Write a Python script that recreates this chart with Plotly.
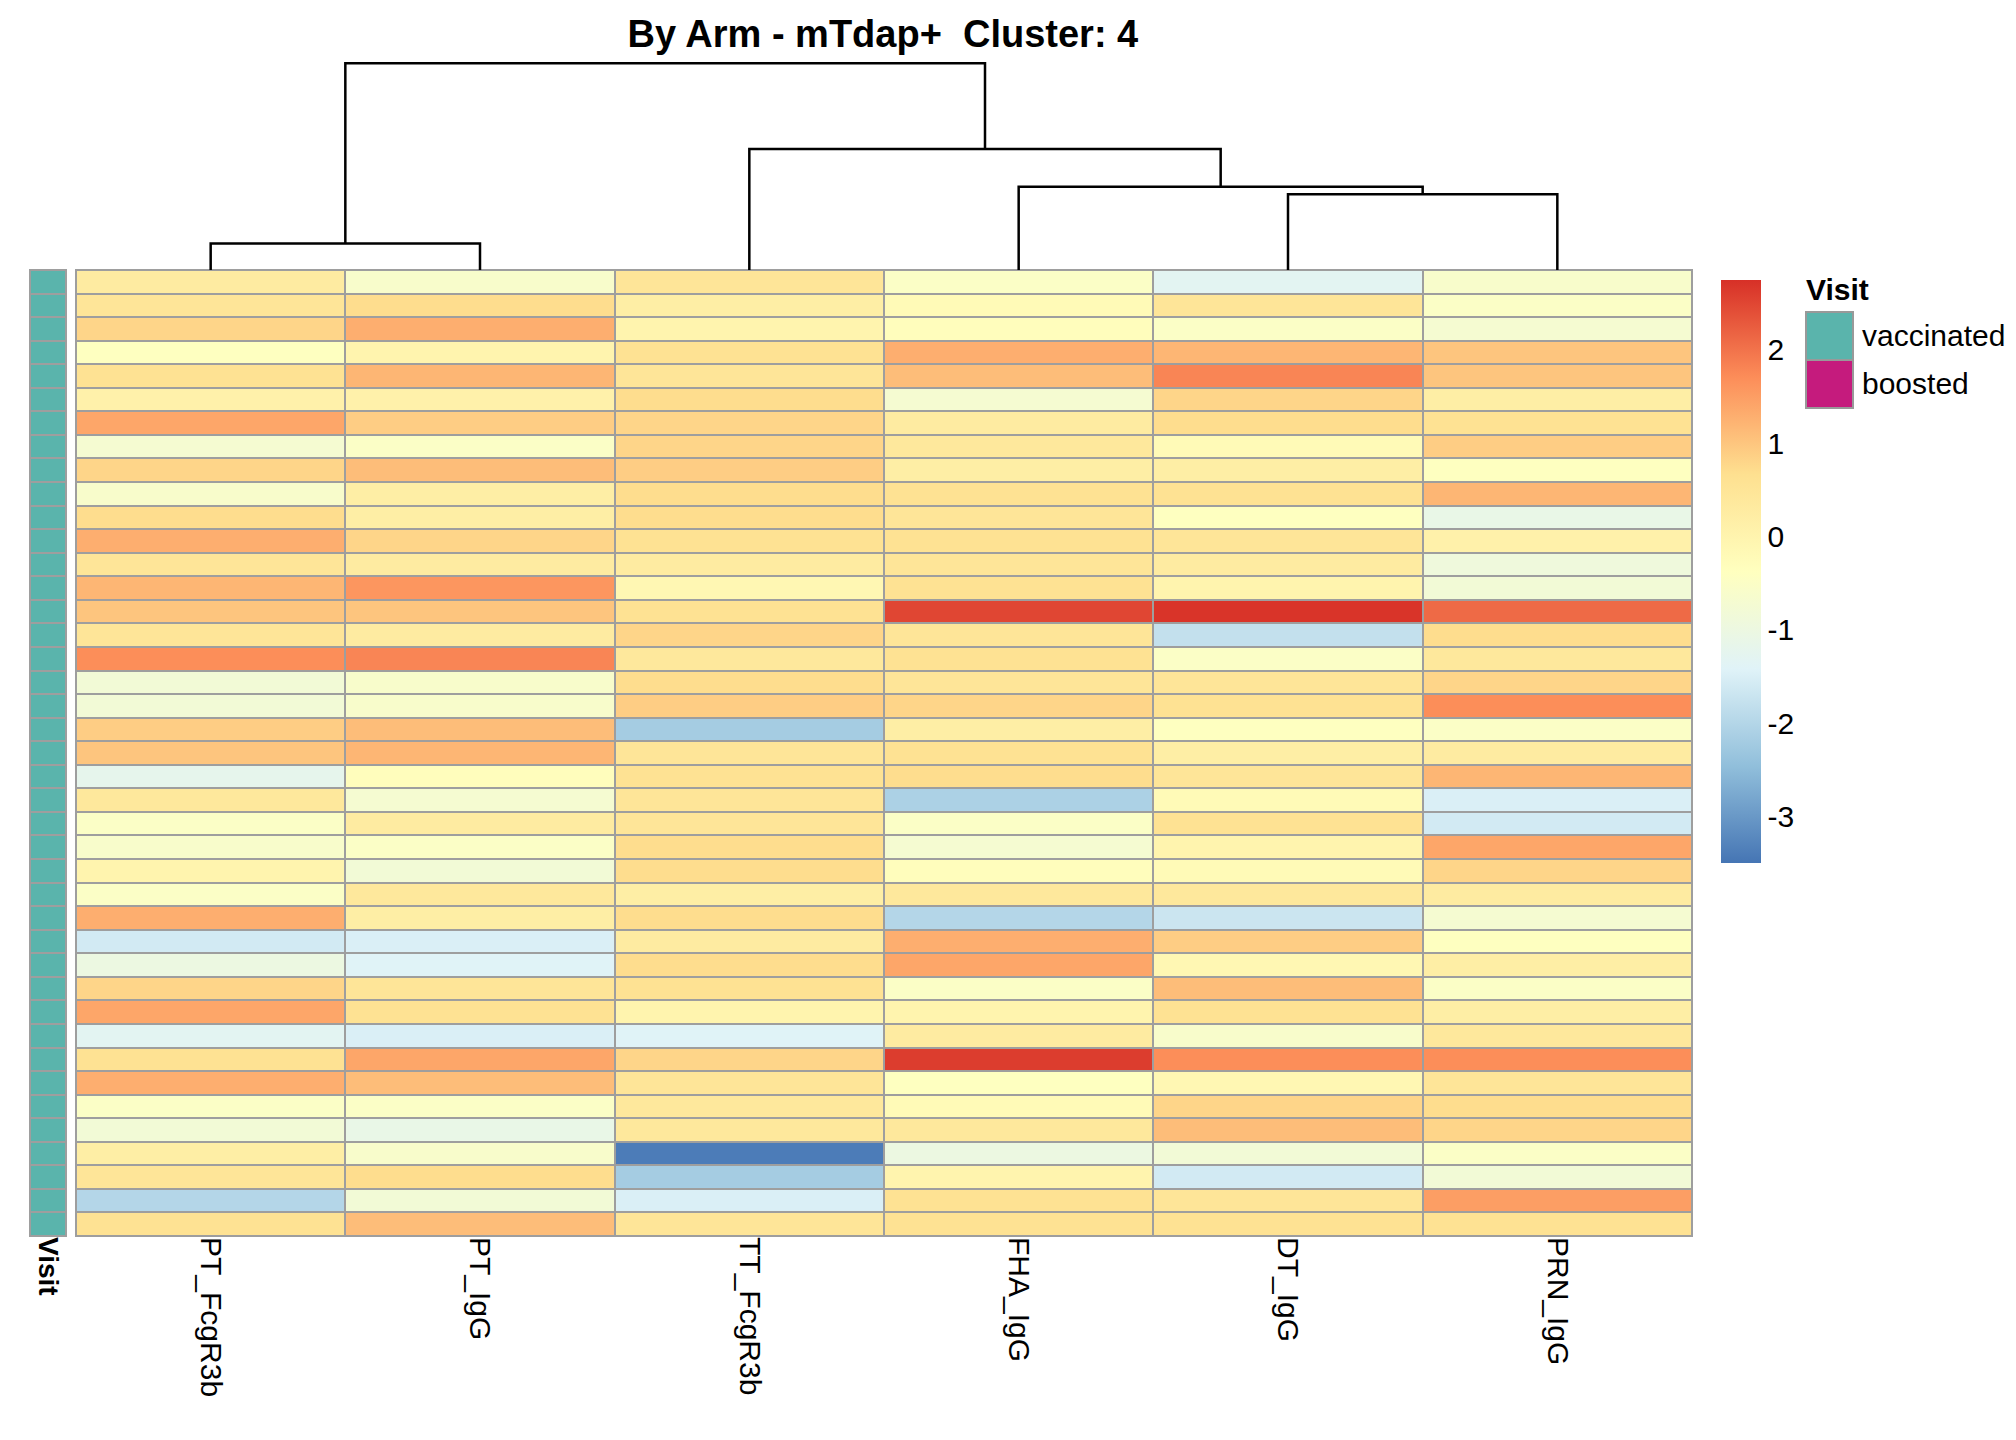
import plotly.graph_objects as go

cols = ["PT_FcgR3b", "PT_IgG", "TT_FcgR3b", "FHA_IgG", "DT_IgG", "PRN_IgG"]
PT_FcgR3b = [0.3,0.5,0.8,-0.4,0.6,0.1,1.4,-0.7,0.8,-0.6,0.7,1.3,0.5,1.2,1.0,0.5,1.7,-0.8,-0.8,0.9,1.0,-1.2,0.4,-0.5,-0.6,0.0,-0.5,1.3,-1.6,-1.0,0.8,1.4,-1.3,0.6,1.3,-0.5,-0.8,0.2,0.5,-2.0,0.6]
PT_IgG = [-0.6,0.7,1.3,0.0,1.2,0.1,0.9,-0.5,1.1,0.2,0.2,0.8,0.3,1.6,1.0,0.3,1.8,-0.6,-0.6,1.1,1.2,-0.3,-0.7,0.3,-0.5,-0.8,0.4,0.2,-1.5,-1.4,0.5,0.6,-1.5,1.4,1.1,-0.5,-1.1,-0.6,0.7,-0.8,1.1]
TT_FcgR3b = [0.5,0.2,0.0,0.6,0.5,0.7,0.8,0.8,0.9,0.7,0.7,0.6,0.3,-0.1,0.6,0.8,0.4,0.7,0.9,-2.2,0.5,0.6,0.5,0.5,0.7,0.7,0.2,0.7,0.3,0.7,0.6,0.0,-1.4,0.8,0.5,0.4,0.4,-3.4,-2.2,-1.5,0.5]
FHA_IgG = [-0.5,-0.2,-0.3,1.3,1.1,-0.7,0.3,0.4,0.2,0.6,0.5,0.6,0.5,0.6,2.5,0.5,0.6,0.5,0.8,0.2,0.6,0.7,-2.1,-0.5,-0.7,-0.3,0.4,-2.0,1.3,1.4,-0.5,0.0,0.3,2.6,-0.4,-0.2,0.4,-1.0,0.0,0.6,0.6]
DT_IgG = [-1.3,0.5,-0.5,1.2,1.8,0.8,0.7,-0.2,0.2,0.6,-0.4,0.5,0.3,0.0,2.7,-1.8,-0.5,0.5,0.6,-0.4,0.2,0.5,-0.2,0.6,0.0,-0.2,0.4,-1.7,0.9,-0.1,1.1,0.6,-0.6,1.7,-0.1,0.8,1.1,-0.8,-1.6,0.5,0.6]
PRN_IgG = [-0.6,-0.5,-0.7,1.0,1.0,0.2,0.6,0.9,-0.4,1.2,-1.1,0.1,-0.9,-0.8,2.1,0.7,0.4,0.8,1.7,-0.5,0.3,1.2,-1.5,-1.6,1.4,0.8,0.3,-0.7,-0.4,0.2,-0.5,0.2,0.4,1.7,0.5,0.7,0.8,-0.5,-0.8,1.5,0.6]
visit = ["vaccinated"] * 41
tick_vals = [-3, -2, -1, 0, 1, 2]
tick_text = ["-3", "-2", "-1", "0", "1", "2"]

merge_heights = {"PT": 21, "DTPRN": 60, "FHA": 66, "TT": 96, "root": 164}

data = [PT_FcgR3b, PT_IgG, TT_FcgR3b, FHA_IgG, DT_IgG, PRN_IgG]
n = len(PT_FcgR3b)
z = [[data[c][r] for c in range(6)] for r in range(n)]
rows = list(range(n))

pal = ["#4575B4", "#91BFDB", "#E0F3F8", "#FFFFBF", "#FEE090", "#FC8D59", "#D73027"]
cscale = [[i / 6, c] for i, c in enumerate(pal)]

W, H = 2016, 1440
def px(x): return x / W
def py(y): return 1 - y / H

fig = go.Figure()
fig.add_trace(go.Heatmap(
    z=z, x=list(range(6)), y=rows, xaxis="x", yaxis="y",
    colorscale=cscale, zmin=-3.5, zmax=2.75,
    xgap=2, ygap=2, hoverinfo="skip",
    colorbar=dict(x=px(1703), xanchor="left", y=py(262), yanchor="top",
                  len=603, lenmode="pixels", thickness=40, thicknessmode="pixels",
                  outlinewidth=0, tickvals=tick_vals, ticktext=tick_text, ticks="",
                  tickfont=dict(size=30, color="black", family="Liberation Sans"))))

vis_val = [[0] for _ in visit]
fig.add_trace(go.Heatmap(
    z=vis_val, x=[0], y=rows, xaxis="x3", yaxis="y",
    colorscale=[[0, "#5AB4AC"], [1, "#5AB4AC"]], showscale=False,
    xgap=2, ygap=2, hoverinfo="skip"))

h = merge_heights
PTc = 0.5
DPc = 4.5
FDc = (3 + DPc) / 2
TTc = (2 + FDc) / 2
segs = [
    ([0, 0, 1, 1], [0, h["PT"], h["PT"], 0]),
    ([4, 4, 5, 5], [0, h["DTPRN"], h["DTPRN"], 0]),
    ([3, 3, DPc, DPc], [0, h["FHA"], h["FHA"], h["DTPRN"]]),
    ([2, 2, FDc, FDc], [0, h["TT"], h["TT"], h["FHA"]]),
    ([PTc, PTc, TTc, TTc], [h["PT"], h["root"], h["root"], h["TT"]]),
]
for xs, ys in segs:
    fig.add_trace(go.Scatter(x=xs, y=ys, xaxis="x2", yaxis="y2", mode="lines",
                             line=dict(color="black", width=2.5), hoverinfo="skip",
                             showlegend=False))

hx0, hx1 = px(68), px(1684)
hy0, hy1 = py(1228), py(262)
fig.update_layout(
    template=None,
    width=W, height=H, margin=dict(l=0, r=0, t=0, b=0),
    paper_bgcolor="white", plot_bgcolor="white", showlegend=False,
    font=dict(family="Liberation Sans", color="black"),
    title=dict(text="<b>By Arm - mTdap+  Cluster: 4</b>", x=0.434, xanchor="center",
               y=py(26), yanchor="middle", font=dict(size=38)),
    xaxis=dict(domain=[hx0, hx1], range=[-0.5, 5.5], tickvals=list(range(6)), ticktext=cols,
               tickangle=90, ticks="", showgrid=False, zeroline=False, showline=False,
               tickfont=dict(size=30), side="bottom", anchor="y"),
    yaxis=dict(domain=[hy0, hy1], range=[n - 0.5, -0.5], showticklabels=False,
               showgrid=False, zeroline=False, ticks="", showline=False),
    xaxis2=dict(domain=[hx0, hx1], range=[-0.5, 5.5], visible=False, anchor="y2"),
    yaxis2=dict(domain=[hy1, py(54)], range=[0, h["root"] + 1], visible=False, anchor="x2"),
    xaxis3=dict(domain=[px(22), px(58)], range=[-0.5, 0.5], tickvals=[0], ticktext=["<b>Visit</b>"],
                tickangle=90, ticks="", tickfont=dict(size=28), anchor="y",
                showgrid=False, zeroline=False),
)

# grey grid background behind the cells
for xa, xb in [(68, 1684), (22, 58)]:
    fig.add_shape(type="rect", xref="paper", yref="paper", x0=px(xa), x1=px(xb),
                  y0=hy0, y1=hy1, fillcolor="#9E9E9E", line=dict(color="#9E9E9E", width=2),
                  layer="below")

fig.add_annotation(x=px(1796), y=py(282), xref="paper", yref="paper", text="<b>Visit</b>",
                   showarrow=False, xanchor="left", yanchor="middle", font=dict(size=30))
for i, (lab, colr) in enumerate([("vaccinated", "#5AB4AC"), ("boosted", "#C51B7D")]):
    y0 = 304 + i * 48
    fig.add_shape(type="rect", xref="paper", yref="paper", x0=px(1798), x1=px(1845),
                  y0=py(y0), y1=py(y0 + 48), fillcolor=colr, line=dict(color="#999999", width=2))
    fig.add_annotation(x=px(1852), y=py(y0 + 24), xref="paper", yref="paper", text=lab,
                       showarrow=False, xanchor="left", yanchor="middle", font=dict(size=30))

fig.write_html("out.html")
